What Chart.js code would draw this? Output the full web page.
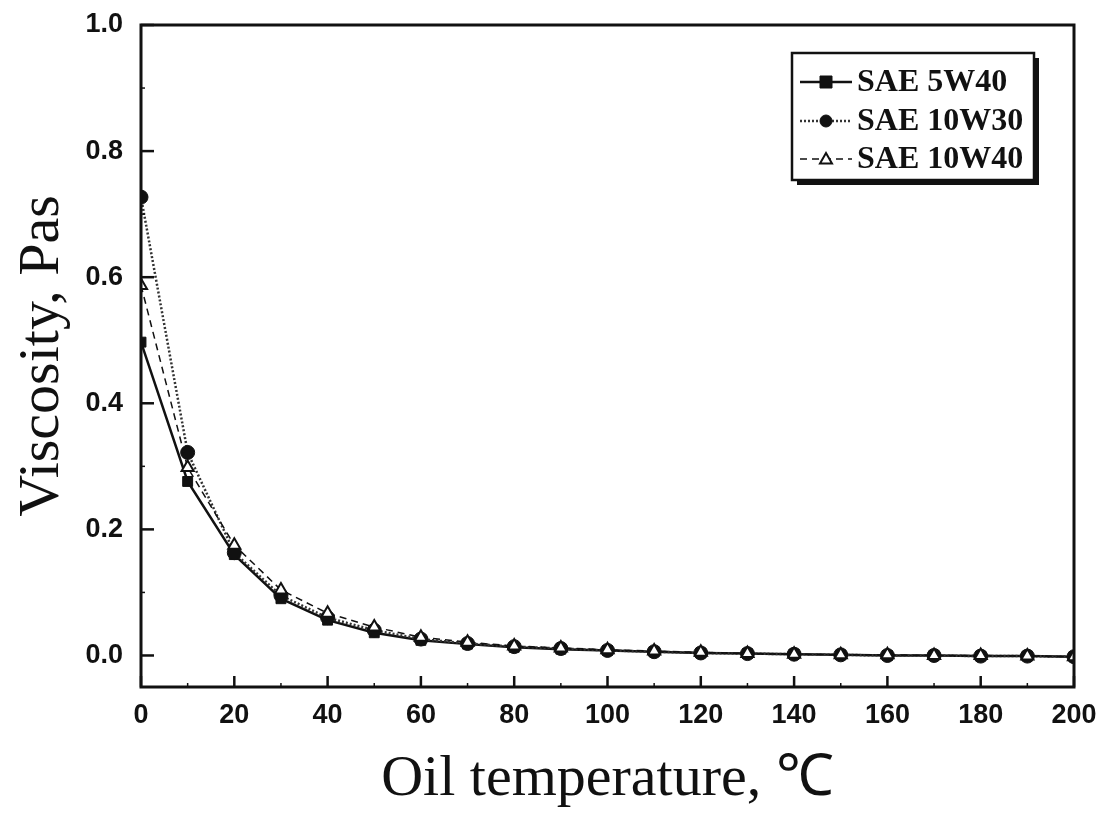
<!DOCTYPE html>
<html>
<head>
<meta charset="utf-8">
<script src="https://cdn.jsdelivr.net/npm/chart.js@4.4.1/dist/chart.umd.min.js"></script>
<style>
  html, body { margin: 0; padding: 0; background: #ffffff; }
  #wrap { width: 1119px; height: 819px; position: relative; }
</style>
</head>
<body>
<div id="wrap"><canvas id="c" width="1119" height="819"></canvas></div>
<script>
// ---- data ----
const temperatures = [0, 10, 20, 30, 40, 50, 60, 70, 80, 90, 100, 110, 120, 130, 140, 150, 160, 170, 180, 190, 200];
const sae5w40  = [0.497, 0.276, 0.160, 0.090, 0.056, 0.036, 0.024, 0.018, 0.013, 0.010, 0.008, 0.006, 0.004, 0.003, 0.002, 0.001, 0.000, 0.000, -0.001, -0.001, -0.002];
const sae10w30 = [0.727, 0.322, 0.163, 0.095, 0.060, 0.040, 0.026, 0.019, 0.014, 0.011, 0.008, 0.006, 0.004, 0.003, 0.002, 0.001, 0.000, 0.000, -0.001, -0.001, -0.002];
const sae10w40 = [0.587, 0.298, 0.175, 0.104, 0.067, 0.045, 0.029, 0.021, 0.015, 0.012, 0.009, 0.007, 0.005, 0.003, 0.002, 0.001, 0.001, 0.000, 0.000, -0.001, -0.002];
const seriesLabels = ['SAE 5W40', 'SAE 10W30', 'SAE 10W40'];
const xTicks = [0, 20, 40, 60, 80, 100, 120, 140, 160, 180, 200];
const yTicks = [0.0, 0.2, 0.4, 0.6, 0.8, 1.0];
const xTitle = 'Oil temperature, \u2103';
const yTitle = 'Viscosity, Pas';

function pts(arr) { return temperatures.map((t, i) => ({ x: t, y: arr[i] })); }

const INK = '#111111';

const framePlugin = {
  id: 'frame',
  afterDraw(chart) {
    const { ctx, chartArea: a, scales } = chart;
    const xs = scales.x, ys = scales.y;
    ctx.save();
    ctx.strokeStyle = INK;
    ctx.lineWidth = 3;
    ctx.strokeRect(a.left, a.top, a.right - a.left, a.bottom - a.top);
    // inner major ticks
    ctx.lineWidth = 2.5;
    xTicks.forEach(v => {
      const px = xs.getPixelForValue(v);
      ctx.beginPath(); ctx.moveTo(px, a.bottom); ctx.lineTo(px, a.bottom - 11); ctx.stroke();
    });
    yTicks.forEach(v => {
      const py = ys.getPixelForValue(v);
      ctx.beginPath(); ctx.moveTo(a.left, py); ctx.lineTo(a.left + 13, py); ctx.stroke();
    });
    // minor ticks
    ctx.lineWidth = 1.5;
    for (let v = 10; v < 200; v += 20) {
      const px = xs.getPixelForValue(v);
      ctx.beginPath(); ctx.moveTo(px, a.bottom); ctx.lineTo(px, a.bottom - 4); ctx.stroke();
    }
    for (let v = 0.1; v < 1.0; v += 0.2) {
      const py = ys.getPixelForValue(v);
      ctx.beginPath(); ctx.moveTo(a.left, py); ctx.lineTo(a.left + 4, py); ctx.stroke();
    }
    ctx.restore();
  }
};

const legendPlugin = {
  id: 'boxLegend',
  afterDraw(chart) {
    const { ctx } = chart;
    const box = { left: 792, top: 53, right: 1034, bottom: 180 };
    ctx.save();
    ctx.fillStyle = '#ffffff';
    ctx.fillRect(box.left, box.top, box.right - box.left, box.bottom - box.top);
    ctx.strokeStyle = INK;
    ctx.lineWidth = 2.5;
    ctx.strokeRect(box.left, box.top, box.right - box.left, box.bottom - box.top);
    // shadow on right and bottom
    ctx.fillStyle = INK;
    ctx.fillRect(box.right, box.top + 5, 5, box.bottom - box.top);
    ctx.fillRect(box.left + 5, box.bottom, box.right - box.left, 5);
    const rows = [82, 121, 159];
    chart.data.datasets.forEach((ds, i) => {
      const y = rows[i];
      ctx.save();
      ctx.strokeStyle = ds.borderColor;
      ctx.lineWidth = ds.borderWidth;
      ctx.setLineDash(ds.borderDash || []);
      ctx.beginPath(); ctx.moveTo(800, y); ctx.lineTo(852, y); ctx.stroke();
      ctx.setLineDash([]);
      ctx.fillStyle = ds.pointBackgroundColor;
      ctx.strokeStyle = ds.pointBorderColor;
      ctx.lineWidth = ds.pointBorderWidth;
      const r = 6;
      ctx.beginPath();
      if (ds.pointStyle === 'rect') {
        ctx.rect(826 - r, y - r, 2 * r, 2 * r);
      } else if (ds.pointStyle === 'circle') {
        ctx.arc(826, y, r, 0, Math.PI * 2);
      } else {
        ctx.moveTo(826, y - r); ctx.lineTo(826 + r, y + r * 0.75); ctx.lineTo(826 - r, y + r * 0.75); ctx.closePath();
      }
      ctx.fill(); ctx.stroke();
      ctx.restore();
      ctx.fillStyle = INK;
      ctx.font = 'bold 32px "Liberation Serif", serif';
      ctx.textBaseline = 'middle';
      ctx.textAlign = 'left';
      ctx.fillText(ds.label, 857, y + 1);
    });
    ctx.restore();
  }
};

new Chart(document.getElementById('c'), {
  type: 'line',
  data: {
    datasets: [
      {
        label: seriesLabels[0], data: pts(sae5w40), order: 2,
        borderColor: INK, borderWidth: 2.5, pointStyle: 'rect', pointRadius: 7,
        pointBackgroundColor: INK, pointBorderColor: INK, pointBorderWidth: 1
      },
      {
        label: seriesLabels[1], data: pts(sae10w30), order: 1,
        borderColor: '#333333', borderWidth: 2.5, borderDash: [2, 2], pointStyle: 'circle', pointRadius: 7,
        pointBackgroundColor: INK, pointBorderColor: INK, pointBorderWidth: 1
      },
      {
        label: seriesLabels[2], data: pts(sae10w40), order: 0,
        borderColor: INK, borderWidth: 1.5, borderDash: [7, 5], pointStyle: 'triangle', pointRadius: 7,
        pointBackgroundColor: '#ffffff', pointBorderColor: INK, pointBorderWidth: 2
      }
    ]
  },
  options: {
    responsive: false,
    animation: false,
    layout: { padding: { left: 0, top: 25, right: 45, bottom: 0 } },
    plugins: { legend: { display: false }, tooltip: { enabled: false } },
    scales: {
      x: {
        type: 'linear', min: 0, max: 200,
        grid: { display: false, drawTicks: false }, border: { display: false },
        afterBuildTicks: s => { s.ticks = xTicks.map(v => ({ value: v })); },
        afterFit: s => { s.height = 132; s.paddingLeft = 0; s.paddingRight = 0; },
        ticks: { color: INK, padding: 12, maxRotation: 0, font: { family: '"Liberation Sans", Arial, sans-serif', size: 27, weight: 'bold' } },
        title: { display: true, text: xTitle, color: INK, padding: { top: 0, bottom: 4 }, font: { family: '"Liberation Serif", serif', size: 58 } }
      },
      y: {
        type: 'linear', min: -0.05, max: 1.0,
        grid: { display: false, drawTicks: false }, border: { display: false },
        afterBuildTicks: s => { s.ticks = yTicks.map(v => ({ value: v })); },
        afterFit: s => { s.width = 141; s.paddingTop = 0; s.paddingBottom = 0; },
        ticks: { color: INK, padding: 18, callback: v => v.toFixed(1), font: { family: '"Liberation Sans", Arial, sans-serif', size: 27, weight: 'bold' } },
        title: { display: true, text: yTitle, color: INK, padding: { top: 8, bottom: 0 }, font: { family: '"Liberation Serif", serif', size: 58 } }
      }
    }
  },
  plugins: [framePlugin, legendPlugin]
});
</script>
</body>
</html>
